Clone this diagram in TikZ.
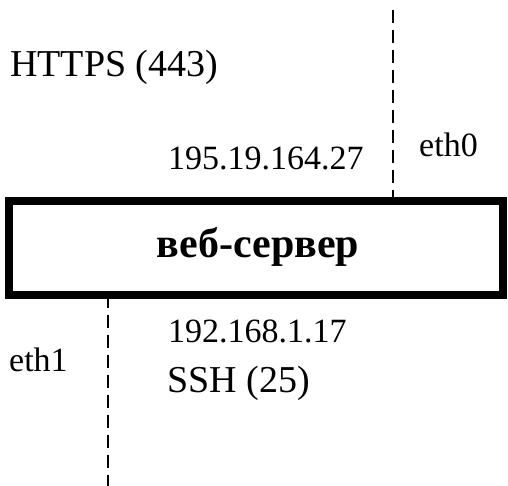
\documentclass[tikz,border=0pt]{standalone}
\usepackage{fontspec}
\setmainfont{Liberation Serif}
\begin{document}
\begin{tikzpicture}[x=1pt,y=-1pt,
  lbl/.style={anchor=base west,inner sep=0pt,font=\fontsize{#1}{44}\selectfont},
  lbl/.default=37,
  srvbox/.style={draw,line width=8pt,minimum width=494pt,minimum height=93.5pt,inner sep=0pt,outer sep=0pt},
  link/.style={line width=2.7pt,dash pattern=on 13pt off 7pt}]
\useasboundingbox (0,0) rectangle (508,486);
\node[srvbox] (srv) at (256,247.75) {};
\node[anchor=base,inner sep=0pt,font=\fontsize{42}{50}\selectfont\bfseries] (srvlbl) at (258,258) {веб-сервер};
\node[lbl=38] (https) at (10,77) {HTTPS (443)};
\node[lbl=34] (ip0) at (168,170) {195.19.164.27};
\node[lbl=34] (eth0) at (419,157) {eth0};
\node[lbl=34] (ip1) at (168,342) {192.168.1.17};
\node[lbl=38] (ssh) at (167,392) {SSH (25)};
\node[lbl=34] (eth1) at (9,371) {eth1};
\coordinate (top0) at (393,10);
\coordinate (bot1) at (108,486);
\draw[link] (top0) -- (top0 |- srv.north);
\draw[link] (srv.south -| bot1) -- (bot1);
\end{tikzpicture}
\end{document}
